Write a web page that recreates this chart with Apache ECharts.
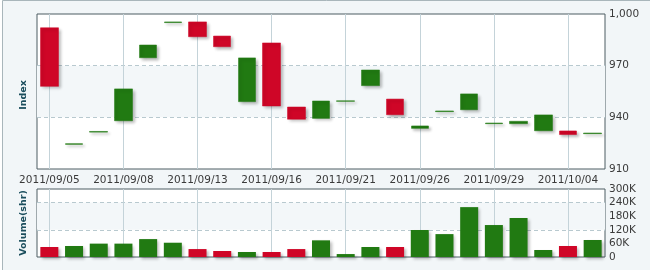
<!DOCTYPE html>
<html>
<head>
<meta charset="utf-8">
<script src="https://cdn.jsdelivr.net/npm/echarts@6/dist/echarts.min.js"></script>
<style>html,body{margin:0;padding:0;background:#fff}#c{width:650px;height:270px}</style>
</head>
<body>
<div id="c"></div>
<script>
var dates = ['2011/09/05','2011/09/06','2011/09/07','2011/09/08','2011/09/09','2011/09/12','2011/09/13','2011/09/14','2011/09/15','2011/09/16','2011/09/19','2011/09/20','2011/09/21','2011/09/22','2011/09/23','2011/09/26','2011/09/27','2011/09/28','2011/09/29','2011/09/30','2011/10/03','2011/10/04','2011/10/05'];
var opens  = [992, 924.3, 931.4, 938, 974.6, 995.0, 995.4, 987.2, 949.1, 983.2, 946, 939.4, 949.3, 958.4, 950.6, 933.6, 943.3, 944.4, 936.3, 936.3, 932.2, 932.1, 930.5];
var closes = [958, 924.7, 931.8, 956.5, 982, 995.4, 986.8, 981, 974.5, 946.6, 938.9, 949.5, 949.6, 967.5, 941.5, 935, 943.7, 953.6, 936.7, 937.7, 941.4, 930.0, 930.9];
var volumes = [44000, 48500, 59000, 59000, 79000, 63000, 35000, 26500, 22000, 22000, 35000, 73500, 13000, 44000, 44000, 119000, 101000, 220000, 141000, 172000, 31000, 48500, 75000];
var indexTicks = [910, 940, 970, 1000];
var volumeTicks = [0, 60000, 120000, 180000, 240000, 300000];

var UP = '#217a12', DOWN = '#cf0627';
var FONT = 'DejaVu Sans';

var candleData = opens.map(function (o, i) {
  var c = closes[i];
  return [o, c, Math.min(o, c), Math.max(o, c)];
});
var volData = volumes.map(function (v, i) {
  return { value: v, itemStyle: { color: closes[i] >= opens[i] ? UP : DOWN } };
});

var shadow = { shadowColor: 'rgba(0,0,0,0.28)', shadowBlur: 3, shadowOffsetX: 2, shadowOffsetY: 2 };

var chart = echarts.init(document.getElementById('c'), null, { renderer: 'canvas' });
chart.setOption({
  backgroundColor: '#fff',
  animation: false,
  graphic: [
    { type: 'rect', z: -10, shape: { x: 2.5, y: 0.5, width: 700, height: 300 },
      style: { fill: '#f2f6f8', stroke: '#a9b6bb', lineWidth: 1 } },
    { type: 'text', x: 24, y: 95, rotation: Math.PI / 2,
      style: { text: 'Index', font: 'bold 9.5px ' + FONT, fill: '#1b4e5d', textAlign: 'center', textVerticalAlign: 'middle' } },
    { type: 'text', x: 24, y: 223, rotation: Math.PI / 2,
      style: { text: 'Volume(shr)', font: 'bold 9.5px ' + FONT, fill: '#1b4e5d', textAlign: 'center', textVerticalAlign: 'middle' } }
  ],
  grid: [
    { left: 37, right: 45, top: 14, height: 155, show: true, backgroundColor: '#fff', borderColor: '#4d5c62', borderWidth: 1 },
    { left: 37, right: 45, top: 189, height: 68, show: true, backgroundColor: '#fff', borderColor: '#4d5c62', borderWidth: 1 }
  ],
  xAxis: [
    { type: 'category', gridIndex: 0, data: dates, boundaryGap: true,
      axisLine: { show: false }, axisTick: { show: false },
      axisLabel: { interval: 2, margin: 6, fontSize: 10.5, fontFamily: FONT, color: '#3a3a3a' },
      splitLine: { show: true, interval: 2, alignWithLabel: true, lineStyle: { color: '#c4d3d9', width: 1 } } },
    { type: 'category', gridIndex: 1, data: dates, boundaryGap: true,
      axisLine: { show: false }, axisTick: { show: false }, axisLabel: { show: false },
      splitLine: { show: true, interval: 2, alignWithLabel: true, lineStyle: { color: '#c4d3d9', width: 1 } } }
  ],
  yAxis: [
    { type: 'value', gridIndex: 0, position: 'right', min: indexTicks[0], max: indexTicks[indexTicks.length - 1], interval: 30,
      axisLine: { show: false }, axisTick: { show: false },
      axisLabel: { margin: 4, fontSize: 10.5, fontFamily: FONT, color: '#3a3a3a',
        formatter: function (v) { return v.toLocaleString('en-US'); } },
      splitLine: { show: true, showMinLine: false, showMaxLine: false, lineStyle: { color: '#b8c9cf', type: [4, 3] } },
      splitArea: { show: true, areaStyle: { color: ['rgba(255,255,255,0)', '#f3f7f9'] } } },
    { type: 'value', gridIndex: 1, position: 'right', min: volumeTicks[0], max: volumeTicks[volumeTicks.length - 1], interval: 60000,
      axisLine: { show: false }, axisTick: { show: false },
      axisLabel: { margin: 4, fontSize: 10.5, fontFamily: FONT, color: '#3a3a3a',
        formatter: function (v) { return v === 0 ? '0' : (v / 1000) + 'K'; } },
      splitLine: { show: false } },
    { type: 'value', gridIndex: 1, position: 'left', min: 0, max: 300000, interval: 120000,
      axisLine: { show: false }, axisTick: { show: false }, axisLabel: { show: false },
      splitLine: { show: true, showMinLine: false, showMaxLine: false, lineStyle: { color: '#b8c9cf', type: [4, 3] } },
      splitArea: { show: true, areaStyle: { color: ['rgba(255,255,255,0)', '#f3f7f9'] } } }
  ],
  series: [
    { type: 'candlestick', xAxisIndex: 0, yAxisIndex: 0, data: candleData, barWidth: 18,
      itemStyle: Object.assign({ color: UP, color0: DOWN, borderColor: UP, borderColor0: DOWN, borderWidth: 0.5 }, shadow) },
    { type: 'bar', xAxisIndex: 1, yAxisIndex: 1, data: volData, barWidth: 18,
      itemStyle: shadow }
  ]
});
</script>
</body>
</html>
